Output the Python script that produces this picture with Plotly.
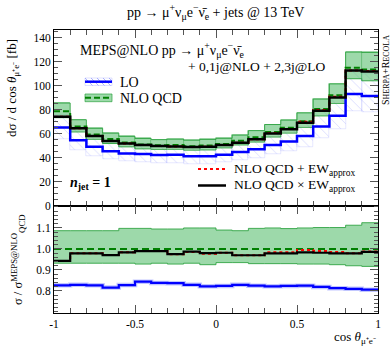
import plotly.graph_objects as go

# ---------------- data ----------------
bin_edges = [-1.0, -0.9, -0.8, -0.7, -0.6, -0.5, -0.4, -0.3, -0.2, -0.1, 0.0,
             0.1, 0.2, 0.3, 0.4, 0.5, 0.6, 0.7, 0.8, 0.9, 1.0]
# NLO QCD central value [fb]
nlo_qcd = [78.7, 65.9, 59.3, 55.6, 52.6, 51.0, 50.3, 50.6, 49.6, 50.2,
           51.5, 54.1, 57.0, 61.5, 65.0, 70.3, 80.6, 92.1, 115.0, 113.5]
# NLO QCD scale band, relative to NLO QCD
nlo_up_ratio = [1.087, 1.087, 1.087, 1.087, 1.098, 1.098, 1.095, 1.095, 1.100, 1.100,
                1.090, 1.087, 1.098, 1.100, 1.097, 1.100, 1.102, 1.102, 1.113, 1.125]
nlo_dn_ratio = [0.932, 0.932, 0.932, 0.932, 0.932, 0.928, 0.932, 0.928, 0.932, 0.925,
                0.935, 0.935, 0.930, 0.930, 0.930, 0.928, 0.928, 0.925, 0.920, 0.917]
# LO relative to NLO QCD
lo_ratio = [0.827, 0.829, 0.827, 0.816, 0.828, 0.844, 0.838, 0.837, 0.829, 0.822,
            0.824, 0.829, 0.825, 0.822, 0.824, 0.825, 0.819, 0.813, 0.810, 0.806]
# LO scale band, relative to LO
lo_up_rel = [1.16, 1.17, 1.18, 1.18, 1.19, 1.19, 1.20, 1.20, 1.20, 1.20,
             1.20, 1.20, 1.20, 1.20, 1.20, 1.20, 1.20, 1.20, 1.20, 1.20]
lo_dn_rel = [0.85, 0.85, 0.85, 0.85, 0.85, 0.85, 0.85, 0.85, 0.85, 0.85,
             0.85, 0.85, 0.85, 0.85, 0.85, 0.85, 0.85, 0.85, 0.85, 0.85]
# NLO QCD x EW_approx and NLO QCD + EW_approx, relative to NLO QCD
mult_ratio = [0.943, 0.979, 0.979, 0.971, 0.984, 0.990, 0.990, 0.975, 0.987, 0.980,
              0.982, 0.970, 0.970, 0.979, 0.979, 0.984, 0.982, 0.979, 0.979, 0.986]
add_ratio = [0.943, 0.979, 0.979, 0.971, 0.984, 0.990, 0.990, 0.975, 0.985, 0.977,
             0.982, 0.970, 0.970, 0.984, 0.984, 0.995, 0.990, 0.986, 0.980, 0.988]

# ---------------- derived ----------------
centers = [(a + b) / 2 for a, b in zip(bin_edges[:-1], bin_edges[1:])]
widths = [b - a for a, b in zip(bin_edges[:-1], bin_edges[1:])]
lo = [n * r for n, r in zip(nlo_qcd, lo_ratio)]
lo_up = [v * r for v, r in zip(lo, lo_up_rel)]
lo_dn = [v * r for v, r in zip(lo, lo_dn_rel)]
nlo_up = [n * r for n, r in zip(nlo_qcd, nlo_up_ratio)]
nlo_dn = [n * r for n, r in zip(nlo_qcd, nlo_dn_ratio)]
mult = [n * r for n, r in zip(nlo_qcd, mult_ratio)]
add = [n * r for n, r in zip(nlo_qcd, add_ratio)]
ones = [1.0 for _ in nlo_qcd]


def step(vals):
    return list(vals) + [vals[-1]]


FONT = "Liberation Serif"
W, H = 392, 350
L, R, T, B = 54, 14, 30, 37
PW, PH = W - L - R, H - T - B


def px(x):
    return (x - L) / PW


def py(y):
    return (H - B - y) / PH


split = py(205.7)

GREEN_FILL = "rgba(60,180,85,0.5)"
GREEN_EDGE = "rgba(40,160,60,0.85)"
GREEN_VEDGE = "rgba(40,160,60,0.35)"
DGREEN = "#008000"
BLUE = "#0000ff"
HATCH = "rgba(110,120,255,0.55)"

fig = go.Figure()

# LO hatched band (main)
fig.add_trace(go.Bar(
    x=centers, y=[u - d for u, d in zip(lo_up, lo_dn)], base=lo_dn, width=widths,
    marker=dict(color="rgba(0,0,0,0)",
                line=dict(color="rgba(120,130,255,0.35)", width=0.5),
                pattern=dict(shape="\\", fgcolor=HATCH, bgcolor="rgba(0,0,0,0)",
                             size=7, solidity=0.12, fillmode="overlay")),
    xaxis="x", yaxis="y", showlegend=False, hoverinfo="skip"))
# NLO band (main): per-bin boxes
fig.add_trace(go.Bar(
    x=centers, y=[u - d for u, d in zip(nlo_up, nlo_dn)], base=nlo_dn, width=widths,
    marker=dict(color=GREEN_FILL, line=dict(color=GREEN_VEDGE, width=0.8)),
    xaxis="x", yaxis="y", showlegend=False, hoverinfo="skip"))
fig.add_trace(go.Scatter(x=bin_edges, y=step(nlo_up), mode="lines", line_shape="hv",
                         line=dict(color=GREEN_EDGE, width=1), xaxis="x", yaxis="y", showlegend=False))
fig.add_trace(go.Scatter(x=bin_edges, y=step(nlo_dn), mode="lines", line_shape="hv",
                         line=dict(color=GREEN_EDGE, width=1), xaxis="x", yaxis="y", showlegend=False))
# lines (main)
fig.add_trace(go.Scatter(x=bin_edges, y=step(lo), mode="lines", line_shape="hv",
                         line=dict(color=BLUE, width=2.5), xaxis="x", yaxis="y", showlegend=False))
fig.add_trace(go.Scatter(x=bin_edges, y=step(nlo_qcd), mode="lines", line_shape="hv",
                         line=dict(color=DGREEN, width=2, dash="6px,3px"), xaxis="x", yaxis="y", showlegend=False))
fig.add_trace(go.Scatter(x=bin_edges, y=step(add), mode="lines", line_shape="hv",
                         line=dict(color="red", width=2, dash="dot"), xaxis="x", yaxis="y", showlegend=False))
fig.add_trace(go.Scatter(x=bin_edges, y=step(mult), mode="lines", line_shape="hv",
                         line=dict(color="black", width=2.5), xaxis="x", yaxis="y", showlegend=False))

# ratio panel: NLO band as a continuous stepped band
fig.add_trace(go.Scatter(x=bin_edges, y=step(nlo_dn_ratio), mode="lines", line_shape="hv",
                         line=dict(color=GREEN_EDGE, width=1), xaxis="x2", yaxis="y2", showlegend=False))
fig.add_trace(go.Scatter(x=bin_edges, y=step(nlo_up_ratio), mode="lines", line_shape="hv",
                         fill="tonexty", fillcolor=GREEN_FILL,
                         line=dict(color=GREEN_EDGE, width=1), xaxis="x2", yaxis="y2", showlegend=False))
fig.add_trace(go.Scatter(x=bin_edges, y=step(lo_ratio), mode="lines", line_shape="hv",
                         line=dict(color="rgba(120,130,255,0.45)", width=4.5), xaxis="x2", yaxis="y2", showlegend=False))
fig.add_trace(go.Scatter(x=bin_edges, y=step(lo_ratio), mode="lines", line_shape="hv",
                         line=dict(color=BLUE, width=2.2), xaxis="x2", yaxis="y2", showlegend=False))
fig.add_trace(go.Scatter(x=bin_edges, y=step(ones), mode="lines", line_shape="hv",
                         line=dict(color=DGREEN, width=2, dash="7px,4px"), xaxis="x2", yaxis="y2", showlegend=False))
fig.add_trace(go.Scatter(x=bin_edges, y=step(add_ratio), mode="lines", line_shape="hv",
                         line=dict(color="red", width=2, dash="dot"), xaxis="x2", yaxis="y2", showlegend=False))
fig.add_trace(go.Scatter(x=bin_edges, y=step(mult_ratio), mode="lines", line_shape="hv",
                         line=dict(color="black", width=2.2), xaxis="x2", yaxis="y2", showlegend=False))

tickfont = dict(family=FONT, size=11.5, color="black")
xcommon = dict(range=[-1, 1], tickvals=[-1, -0.5, 0, 0.5, 1], ticks="inside", ticklen=8,
               tickcolor="#555", showline=True, linecolor="black", linewidth=1, mirror="ticks",
               showgrid=False, zeroline=False,
               minor=dict(dtick=0.1, ticks="inside", ticklen=5, tickcolor="#555", showgrid=False))

fig.update_layout(
    width=W, height=H, margin=dict(l=L, r=R, t=T, b=B, autoexpand=False),
    paper_bgcolor="white", plot_bgcolor="white", barmode="overlay", bargap=0,
    font=dict(family=FONT, size=12, color="black"),
    xaxis=dict(**xcommon, domain=[0, 1], anchor="y", showticklabels=False, matches="x2"),
    yaxis=dict(domain=[split, 1], range=[0, 146.4], tickvals=[0, 20, 40, 60, 80, 100, 120, 140],
               ticks="inside", ticklen=8, tickcolor="#555", showline=True, linecolor="black",
               linewidth=1, mirror="ticks", showgrid=False, zeroline=False, tickfont=tickfont,
               minor=dict(dtick=5, ticks="inside", ticklen=4, tickcolor="#555", showgrid=False)),
    xaxis2=dict(**xcommon, domain=[0, 1], anchor="y2", ticktext=["-1", "-0.5", "0", "0.5", "1"],
                tickfont=tickfont),
    yaxis2=dict(domain=[0, split], range=[0.695, 1.206], tickvals=[0.8, 0.9, 1.0, 1.1],
                ticktext=["0.8", "0.9", "1.0", "1.1"],
                ticks="inside", ticklen=8, tickcolor="#555", showline=True, linecolor="black",
                linewidth=1, mirror="ticks", showgrid=False, zeroline=False, tickfont=tickfont,
                minor=dict(dtick=0.02, ticks="inside", ticklen=4, tickcolor="#555", showgrid=False)),
)

ann = []


def text(x, y, s, size=13, xanchor="left", yanchor="middle", angle=0):
    ann.append(dict(x=px(x), y=py(y), xref="paper", yref="paper", text=s, showarrow=False,
                    xanchor=xanchor, yanchor=yanchor, textangle=angle,
                    font=dict(family=FONT, size=size, color="black")))


proc = "μ<sup>+</sup>ν<sub>μ</sub>e<sup>−</sup>ν̄<sub>e</sub>"
text(215, 12, "pp → " + proc + " + jets @ 13 TeV", size=14, xanchor="center")
text(78, 50, "MEPS@NLO pp → " + proc, size=14)
text(327, 66, "+ 0,1j@NLO + 2,3j@LO", size=13.5, xanchor="right")
text(118, 82, "LO", size=14)
text(118, 98, "NLO QCD", size=14)
text(232, 169, "NLO QCD + EW<sub>approx</sub>", size=13.5)
text(232, 186, "NLO QCD × EW<sub>approx</sub>", size=13.5)
text(68, 183, "<b><i>n</i><sub>jet</sub> = 1</b>", size=14)
text(12, 88, "dσ / d cos <i>θ</i><sub>μ⁺e⁻</sub> [fb]", size=13, xanchor="center", yanchor="middle", angle=-90)
text(18, 260, "σ / σ<sup>MEPS@NLO</sup><sub>QCD</sub>", size=12.5, xanchor="center", angle=-90)
text(378, 337, "cos <i>θ</i><sub>μ⁺e⁻</sub>", size=13, xanchor="right")
text(385, 70, 'S<span style="font-size:8px">HERPA</span>+R<span style="font-size:8px">ECOLA</span>',
     size=10, xanchor="center", yanchor="middle", angle=-90)
fig.update_layout(annotations=ann)

shapes = []
# LO legend: hatch box + line
shapes.append(dict(type="rect", xref="paper", yref="paper", x0=px(85), x1=px(112), y0=py(85.5), y1=py(78),
                   line=dict(color="rgba(120,130,255,0.4)", width=0.6), fillcolor="rgba(0,0,0,0)"))
for k in range(5):
    x0 = 85 + k * 6
    x1 = min(x0 + 7.5, 112)
    shapes.append(dict(type="line", xref="paper", yref="paper", x0=px(x0), x1=px(x1),
                       y0=py(78), y1=py(78 + (x1 - x0)),
                       line=dict(color=HATCH, width=1)))
shapes.append(dict(type="line", xref="paper", yref="paper", x0=px(85), x1=px(112), y0=py(81.7), y1=py(81.7),
                   line=dict(color=BLUE, width=2.5)))
# NLO legend
shapes.append(dict(type="rect", xref="paper", yref="paper", x0=px(85), x1=px(112), y0=py(101.7), y1=py(94),
                   line=dict(color=GREEN_EDGE, width=0.8), fillcolor=GREEN_FILL))
shapes.append(dict(type="line", xref="paper", yref="paper", x0=px(85), x1=px(112), y0=py(97.8), y1=py(97.8),
                   line=dict(color=DGREEN, width=2, dash="6px,3px")))
# EW legends
shapes.append(dict(type="line", xref="paper", yref="paper", x0=px(198), x1=px(226), y0=py(169), y1=py(169),
                   line=dict(color="red", width=2, dash="dot")))
shapes.append(dict(type="line", xref="paper", yref="paper", x0=px(198), x1=px(226), y0=py(185.5), y1=py(185.5),
                   line=dict(color="black", width=2.5)))
fig.update_layout(shapes=shapes)

# remove the browser's default 8px page margin so the figure sits at the window origin
fig.write_html("out.html", config={"displayModeBar": False},
               post_script="document.body.style.margin='0px';document.body.style.padding='0px';")
